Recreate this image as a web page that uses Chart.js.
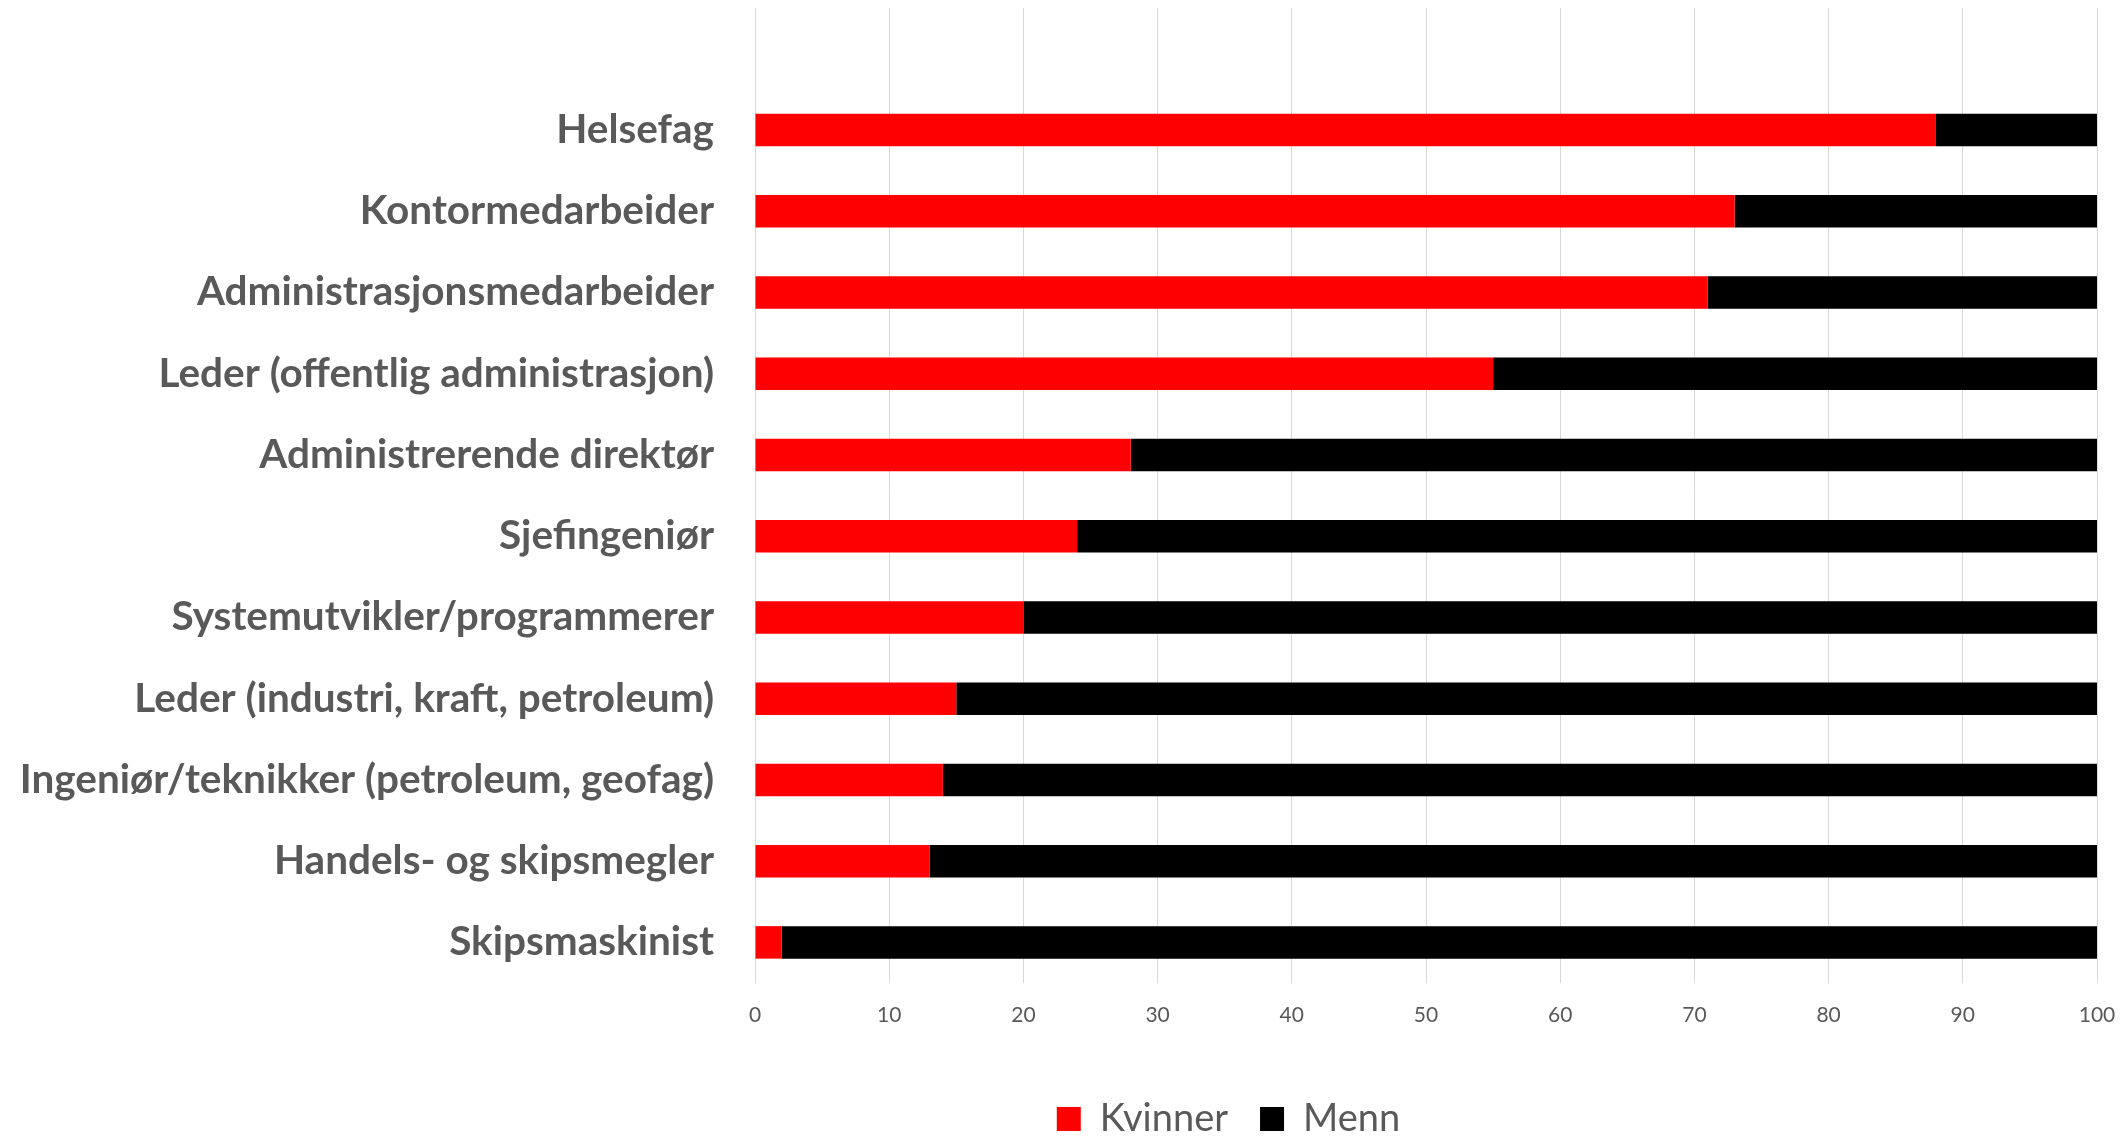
<!DOCTYPE html>
<html>
<head>
    <title>Kvinner og menn i yrker</title>
    <script src="https://cdn.jsdelivr.net/npm/chart.js"></script>
    <style>
        html, body {
            margin: 0;
            padding: 0;
            background: #ffffff;
            overflow: hidden;
        }
        #wrap {
            width: 2122px;
            height: 1136px;
            overflow: hidden;
        }
        canvas {
            display: block;
        }
    </style>
</head>
<body>
    <div id="wrap">
        <canvas id="figure" width="2122" height="1148"></canvas>
    </div>

    <script>
        // first row is left empty, like in the original sheet
        var categories = ['', 'Helsefag', 'Kontormedarbeider', 'Administrasjonsmedarbeider',
            'Leder (offentlig administrasjon)', 'Administrerende direktør', 'Sjefingeniør',
            'Systemutvikler/programmerer', 'Leder (industri, kraft, petroleum)',
            'Ingeniør/teknikker (petroleum, geofag)', 'Handels- og skipsmegler', 'Skipsmaskinist'];
        var kvinner = [null, 88, 73, 71, 55, 28, 24, 20, 15, 14, 13, 2];
        var menn = [null, 12, 27, 29, 45, 72, 76, 80, 85, 86, 87, 98];
        var seriesNames = ['Kvinner', 'Menn'];
        var xMin = 0, xMax = 100, xStep = 10;

        var grey = '#595959';

        // move the legend sideways, the original sits right of centre
        var legendShift = {
            id: 'legendShift',
            afterLayout: function (chart) {
                var lg = chart.legend;
                lg.left += 180;
                lg.right += 180;
            }
        };

        var ctx = document.getElementById('figure').getContext('2d');
        new Chart(ctx, {
            type: 'bar',
            data: {
                labels: categories,
                datasets: [{
                    label: seriesNames[0],
                    data: kvinner,
                    backgroundColor: '#ff0000',
                    borderWidth: 0
                }, {
                    label: seriesNames[1],
                    data: menn,
                    backgroundColor: '#000000',
                    borderWidth: 0
                }]
            },
            plugins: [legendShift],
            options: {
                indexAxis: 'y',
                responsive: false,
                animation: false,
                categoryPercentage: 1,
                barPercentage: 0.4,
                layout: {
                    padding: { top: 8, right: 25, left: 0, bottom: 0 }
                },
                scales: {
                    x: {
                        stacked: true,
                        min: xMin,
                        max: xMax,
                        ticks: {
                            stepSize: xStep,
                            color: grey,
                            padding: 20,
                            font: { family: 'Lato', size: 21 }
                        },
                        grid: {
                            color: '#d9d9d9',
                            lineWidth: 1,
                            drawTicks: false
                        },
                        border: { display: false },
                        afterFit: function (s) {
                            s.height = 85;
                            s.paddingLeft = 0;
                            s.paddingRight = 0;
                        }
                    },
                    y: {
                        stacked: true,
                        ticks: {
                            color: grey,
                            padding: 41,
                            autoSkip: false,
                            font: { family: 'Lato', size: 40.5, weight: 'bold' }
                        },
                        grid: { display: false, drawTicks: false },
                        border: { display: false },
                        afterFit: function (s) {
                            s.width = 755;
                            // keep the label padding from eating the top of the plot
                            s.paddingTop = 0;
                            s.paddingBottom = 0;
                        }
                    }
                },
                plugins: {
                    legend: {
                        position: 'bottom',
                        labels: {
                            boxWidth: 24,
                            boxHeight: 24,
                            padding: 32,
                            color: grey,
                            font: { family: 'Lato', size: 38 }
                        }
                    },
                    tooltip: { enabled: false }
                }
            }
        });
    </script>
</body>
</html>
